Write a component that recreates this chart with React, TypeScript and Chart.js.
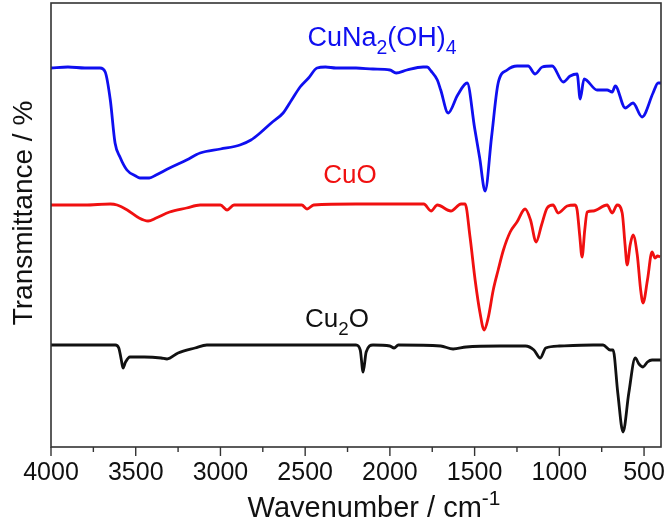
import React, { useEffect, useRef } from "react";
import { Chart, registerables } from "chart.js";

Chart.register(...registerables);

// ---- Data (wavenumber in cm^-1, transmittance in arbitrary units, stacked/offset) ----
const cuNaWavenumber = [4000, 3900, 3800, 3711, 3680, 3650, 3622, 3593, 3552, 3500, 3475, 3420, 3380, 3300, 3200, 3120, 3000, 2885, 2820, 2766, 2700, 2630, 2580, 2530, 2480, 2430, 2380, 2318, 2200, 2100, 2000, 1963, 1900, 1804, 1780, 1757, 1720, 1700, 1656, 1600, 1544, 1500, 1470, 1438, 1400, 1361, 1308, 1249, 1184, 1143, 1101, 1042, 977, 936, 895, 877, 854, 777, 718, 688, 670, 611, 565, 512, 447, 417, 400];
const cuNaT = [379, 380, 379, 379, 375, 347, 304, 290, 277, 271, 269, 269, 272, 279, 287, 294, 298, 302, 307, 314, 324, 334, 347, 360, 369, 379, 380, 379, 379, 378, 377, 374, 377, 380, 380, 376, 367, 357, 334, 352, 364, 319, 289, 256, 310, 364, 377, 381, 381, 373, 380, 381, 365, 371, 373, 348, 368, 357, 357, 355, 361, 339, 344, 330, 354, 364, 364];

const cuoWavenumber = [4000, 3800, 3650, 3610, 3550, 3480, 3427, 3380, 3300, 3200, 3120, 3000, 2961, 2920, 2700, 2520, 2489, 2450, 2200, 2000, 1800, 1757, 1720, 1640, 1580, 1556, 1527, 1497, 1468, 1444, 1420, 1390, 1361, 1330, 1290, 1250, 1202, 1170, 1137, 1105, 1072, 1037, 1007, 954, 907, 895, 880, 866, 850, 836, 800, 718, 688, 659, 629, 612, 600, 582, 565, 540, 520, 506, 480, 453, 435, 420, 405];
const cuoT = [242, 242, 243, 242, 237, 229, 226, 229, 235, 239, 242, 242, 237, 242, 242, 242, 238, 242, 243, 243, 243, 236, 242, 236, 243, 243, 210, 167, 134, 117, 129, 157, 177, 197, 215, 225, 238, 227, 205, 222, 239, 242, 234, 241, 242, 237, 212, 190, 217, 235, 236, 242, 234, 242, 234, 202, 182, 202, 212, 192, 157, 144, 167, 195, 189, 191, 190];

const cu2oWavenumber = [4000, 3800, 3620, 3600, 3585, 3575, 3560, 3534, 3450, 3350, 3315, 3250, 3150, 3080, 2900, 2500, 2200, 2175, 2158, 2140, 2100, 2000, 1975, 1950, 1700, 1627, 1550, 1350, 1200, 1150, 1113, 1080, 1000, 800, 742, 700, 683, 655, 624, 590, 552, 530, 506, 480, 453, 400];
const cu2oT = [102, 102, 102, 99, 87, 79, 85, 90, 90, 89, 88, 94, 99, 102, 102, 102, 102, 97, 75, 95, 102, 101, 99, 102, 101, 98, 100, 101, 101, 97, 89, 99, 101, 102, 102, 97, 97, 54, 15, 54, 89, 83, 80, 85, 87, 87];

const majorTicks = [4000, 3500, 3000, 2500, 2000, 1500, 1000, 500];
const minorTicks = [3750, 3250, 2750, 2250, 1750, 1250, 750];

const X_MIN = 400;
const X_MAX = 4000;
const Y_MIN = 0;
const Y_MAX = 444;

const BLUE = "#0f0ff0";
const RED = "#f01010";
const BLACK = "#111111";
const FONT = "'Liberation Sans', Arial, Helvetica, sans-serif";

type Part = [string, "n" | "sub" | "sup"];

function drawRich(
  ctx: CanvasRenderingContext2D,
  parts: Part[],
  cx: number,
  baseline: number,
  size: number,
  color: string
) {
  const small = size * 0.72;
  const widths = parts.map(([t, k]) => {
    ctx.font = `${k === "n" ? size : small}px ${FONT}`;
    return ctx.measureText(t).width;
  });
  const total = widths.reduce((a, b) => a + b, 0);
  let x = cx - total / 2;
  ctx.fillStyle = color;
  ctx.textAlign = "left";
  ctx.textBaseline = "alphabetic";
  parts.forEach(([t, k], i) => {
    ctx.font = `${k === "n" ? size : small}px ${FONT}`;
    let y = baseline;
    if (k === "sub") y = baseline + size * 0.3;
    if (k === "sup") y = baseline - size * 0.42;
    ctx.fillText(t, x, y);
    x += widths[i];
  });
}

const decorPlugin = {
  id: "decor",
  afterDraw(chart: any) {
    const ctx: CanvasRenderingContext2D = chart.ctx;
    const area = chart.chartArea;
    const xs = chart.scales.x;
    ctx.save();
    // frame
    ctx.strokeStyle = "#333333";
    ctx.lineWidth = 1.6;
    ctx.strokeRect(area.left, area.top, area.right - area.left, area.bottom - area.top);
    // ticks
    ctx.lineWidth = 1.4;
    majorTicks.forEach((v) => {
      const px = xs.getPixelForValue(v);
      ctx.beginPath();
      ctx.moveTo(px, area.bottom);
      ctx.lineTo(px, area.bottom + 9);
      ctx.stroke();
    });
    minorTicks.forEach((v) => {
      const px = xs.getPixelForValue(v);
      ctx.beginPath();
      ctx.moveTo(px, area.bottom);
      ctx.lineTo(px, area.bottom + 5);
      ctx.stroke();
    });
    // tick labels
    ctx.fillStyle = "#111111";
    ctx.font = `25px ${FONT}`;
    ctx.textAlign = "center";
    ctx.textBaseline = "alphabetic";
    majorTicks.forEach((v) => {
      ctx.fillText(String(v), xs.getPixelForValue(v), 480);
    });
    // x title
    drawRich(ctx, [["Wavenumber / cm", "n"], ["-1", "sup"]], 374, 517, 29, "#111111");
    // y title
    ctx.save();
    ctx.translate(32, 213);
    ctx.rotate(-Math.PI / 2);
    ctx.font = `28px ${FONT}`;
    ctx.fillStyle = "#111111";
    ctx.textAlign = "center";
    ctx.textBaseline = "alphabetic";
    ctx.fillText("Transmittance / %", 0, 0);
    ctx.restore();
    // series labels
    drawRich(ctx, [["CuNa", "n"], ["2", "sub"], ["(OH)", "n"], ["4", "sub"]], 382, 46, 27, BLUE);
    drawRich(ctx, [["CuO", "n"]], 350, 183, 26, RED);
    drawRich(ctx, [["Cu", "n"], ["2", "sub"], ["O", "n"]], 337, 327, 26, BLACK);
    ctx.restore();
  },
};

function toPoints(xs: number[], ys: number[]) {
  return xs.map((x, i) => ({ x, y: ys[i] }));
}

export default function App() {
  const ref = useRef<HTMLCanvasElement | null>(null);
  useEffect(() => {
    if (!ref.current) return;
    const mk = (label: string, xs: number[], ys: number[], color: string) => ({
      label,
      data: toPoints(xs, ys),
      borderColor: color,
      backgroundColor: color,
      borderWidth: 2.8,
      pointRadius: 0,
      tension: 0.3,
      cubicInterpolationMode: "monotone" as const,
      fill: false,
    });
    const chart = new Chart(ref.current, {
      type: "line",
      data: {
        datasets: [
          mk("CuNa2(OH)4", cuNaWavenumber, cuNaT, BLUE),
          mk("CuO", cuoWavenumber, cuoT, RED),
          mk("Cu2O", cu2oWavenumber, cu2oT, BLACK),
        ],
      },
      options: {
        responsive: false,
        animation: false,
        devicePixelRatio: 1,
        layout: { padding: { left: 51, right: 11, top: 3, bottom: 74 } },
        plugins: { legend: { display: false }, tooltip: { enabled: false } },
        scales: {
          x: { type: "linear", reverse: true, min: X_MIN, max: X_MAX, display: false },
          y: { type: "linear", min: Y_MIN, max: Y_MAX, display: false },
        },
      },
      plugins: [decorPlugin],
    });
    return () => chart.destroy();
  }, []);
  return (
    <div style={{ position: "fixed", left: 0, top: 0, width: 672, height: 521, background: "#fff" }}>
      <canvas ref={ref} width={672} height={521} style={{ display: "block" }} />
    </div>
  );
}
